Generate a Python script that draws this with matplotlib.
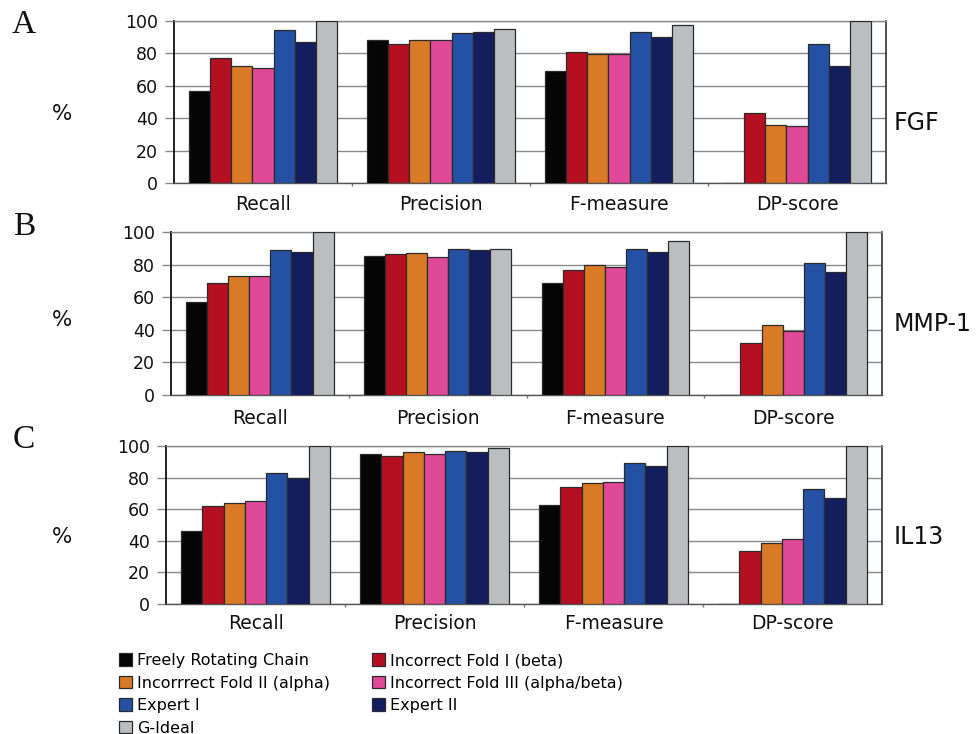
import matplotlib
matplotlib.use("Agg")
import matplotlib.pyplot as plt
from matplotlib.patches import Patch
import numpy as np

# ---- data -------------------------------------------------------------
metrics = ["Recall", "Precision", "F-measure", "DP-score"]
methods = [
    "Freely Rotating Chain",
    "Incorrect Fold I (beta)",
    "Incorrrect Fold II (alpha)",
    "Incorrect Fold III (alpha/beta)",
    "Expert I",
    "Expert II",
    "G-Ideal",
]
colors = ["#050505", "#B41022", "#D97B26", "#E04898", "#2451A3", "#141D5E", "#BCBDBF"]

# rows: methods, columns: metrics (Recall, Precision, F-measure, DP-score)
fgf = [
    [57, 88.5, 69, 0],
    [77, 86, 81, 43],
    [72, 88, 79.5, 36],
    [71, 88.5, 79.5, 35],
    [94.5, 92.5, 93.5, 86],
    [87, 93, 90, 72],
    [100, 95, 97.5, 100],
]
mmp1 = [
    [57, 85, 68.5, 0],
    [68.5, 86.5, 76.5, 32],
    [73, 87, 79.5, 43],
    [73, 84.5, 78.5, 39],
    [89, 89.5, 89.5, 81],
    [87.5, 89, 88, 75.5],
    [100, 89.5, 94.5, 100],
]
il13 = [
    [46.5, 95, 62.5, 0],
    [62, 93.5, 74, 33.5],
    [64, 96, 76.5, 38.5],
    [65, 95, 77, 41],
    [83, 97, 89.5, 72.5],
    [80, 96, 87.5, 67],
    [100, 98.5, 100, 100],
]
panels = [("A", "FGF", fgf), ("B", "MMP-1", mmp1), ("C", "IL13", il13)]

# ---- layout (pixel boxes: left, right, top, bottom) ------------------
W, H = 976, 734
boxes = [(174, 886, 21, 183), (171, 882, 232, 395), (166, 882, 446, 604)]
letter_y = [25, 227, 440]
pct_y = [114, 320, 537]
name_y = [123, 324, 537]
label_pad = [8.5, 10, 7.5]

fig = plt.figure(figsize=(W / 100, H / 100), dpi=100)
fig.patch.set_facecolor("white")

n = len(methods)
bw = 0.1185
x = np.arange(len(metrics)) + 0.5

for (letter, name, vals), (l, r, t, b), ly, py, ny, lp in zip(
        panels, boxes, letter_y, pct_y, name_y, label_pad):
    ax = fig.add_axes([l / W, 1 - b / H, (r - l) / W, (b - t) / H])
    for j in range(n):
        ax.bar(x + (j - (n - 1) / 2) * bw, vals[j], width=bw,
               color=colors[j], edgecolor="#2b2b2b", linewidth=0.9, zorder=3)
    ax.set_xlim(0, len(metrics))
    ax.set_ylim(0, 100)
    ax.set_yticks(np.arange(0, 101, 20))
    ax.yaxis.grid(True, color="#8a8a8a", linewidth=1.0, zorder=0)
    ax.tick_params(axis="y", direction="out", length=6.5, width=1.0,
                   color="#8a8a8a", pad=5, labelsize=12.5, labelcolor="#111111")
    # boundaries between metric groups as small major ticks, names on minor ticks
    ax.set_xticks([1, 2, 3])
    ax.set_xticklabels([])
    ax.set_xticks(x, minor=True)
    ax.set_xticklabels(metrics, minor=True)
    ax.tick_params(axis="x", which="major", direction="out", length=2,
                   width=1, color="#777777")
    ax.tick_params(axis="x", which="minor", length=0, pad=lp,
                   labelsize=13.5, labelcolor="#111111")
    ax.spines["left"].set_color("#111111")
    ax.spines["left"].set_linewidth(1.3)
    ax.spines["bottom"].set_color("#555555")
    ax.spines["bottom"].set_linewidth(1.0)
    ax.spines["right"].set_color("#333333")
    ax.spines["right"].set_linewidth(1.2)
    ax.spines["top"].set_color("#8a8a8a")
    ax.spines["top"].set_linewidth(1.0)
    ax.set_axisbelow(True)

    fig.text(24 / W, 1 - ly / H, letter, family="Liberation Serif",
             fontsize=24, ha="center", va="center", color="#111111")
    fig.text(62 / W, 1 - py / H, "%", fontsize=15.5, ha="center",
             va="center", color="#111111")
    fig.text(894 / W, 1 - ny / H, name, fontsize=17, ha="left",
             va="center", color="#111111")

# legend: two columns filled row by row
order = [0, 2, 4, 6, 1, 3, 5]
handles = [Patch(facecolor=colors[i], edgecolor="#2b2b2b", linewidth=0.9,
                 label=methods[i]) for i in order]
fig.legend(handles=handles, loc="upper left",
           bbox_to_anchor=(119 / W, 1 - 653 / H), ncol=2, frameon=False,
           fontsize=11.5, handlelength=0.8, handleheight=0.8,
           handletextpad=0.35, columnspacing=2.6, labelspacing=0.47,
           borderpad=0, borderaxespad=0)

fig.savefig("out.png", dpi=100, facecolor="white")
